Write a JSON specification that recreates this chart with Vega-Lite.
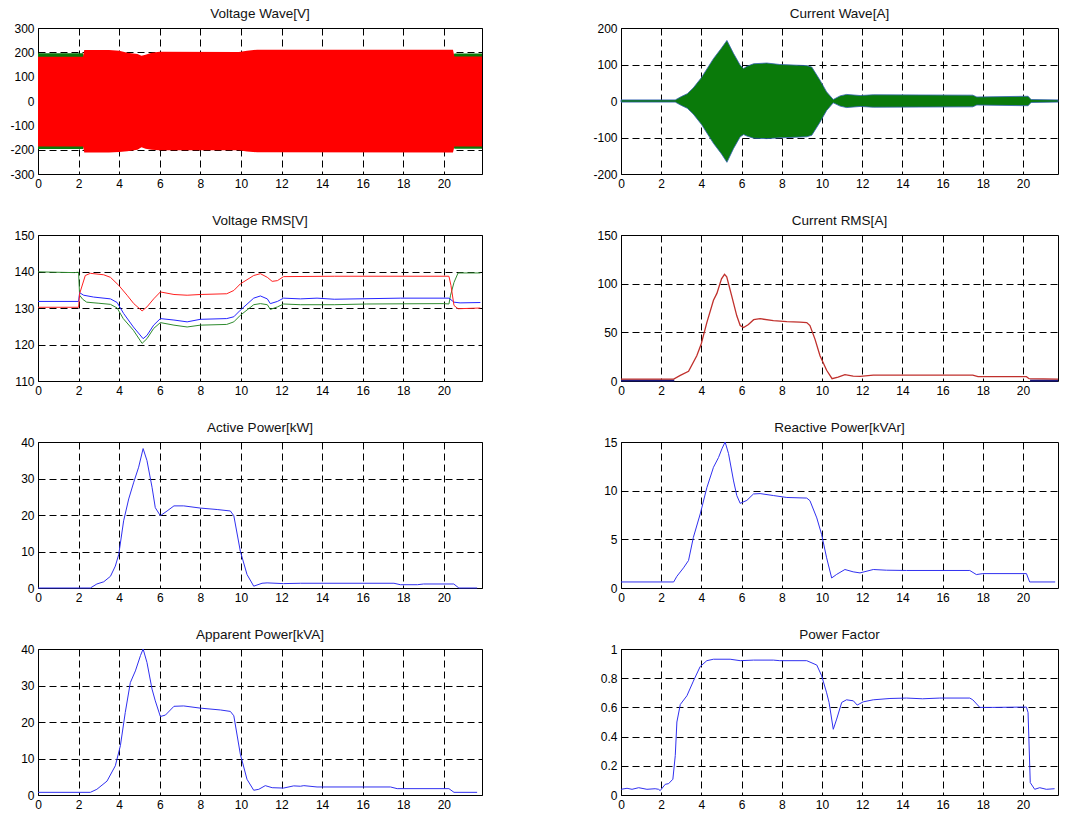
{
  "$schema": "https://vega.github.io/schema/vega-lite/v6.json",
  "background": "white",
  "padding": {"left": 9, "top": 6, "right": 5, "bottom": 5},
  "columns": 2,
  "spacing": {"row": 61, "column": 139},
  "bounds": "flush",
  "config": {
    "font": "Liberation Sans",
    "view": {"stroke": "#000", "strokeWidth": 1},
    "axis": {"grid": true, "gridColor": "#000", "gridDash": [7, 4], "gridWidth": 1, "gridOpacity": 1, "domain": false, "ticks": false, "labelFont": "Liberation Sans", "labelFontSize": 12, "labelColor": "#000", "labelPadding": 4, "title": null, "labelFlush": false, "labelOverlap": false},
    "title": {"font": "Liberation Sans", "fontSize": 13.5, "fontWeight": "normal", "color": "#111", "frame": "group", "anchor": "middle", "offset": 2}
  },
  "datasets": {
    "vw": [
      {"s": "g", "t": 0, "hi": 196, "lo": -197}, {"s": "g", "t": 2.22, "hi": 196, "lo": -197}, {"s": "g", "t": 2.28, "hi": 180, "lo": -180}, {"s": "g", "t": 20.45, "hi": 180, "lo": -180}, {"s": "g", "t": 20.52, "hi": 195, "lo": -196}, {"s": "g", "t": 21.88, "hi": 195, "lo": -196},
      {"s": "r", "t": 0, "hi": 182, "lo": -187}, {"s": "r", "t": 2.22, "hi": 182, "lo": -187}, {"s": "r", "t": 2.28, "hi": 210, "lo": -212}, {"s": "r", "t": 3.5, "hi": 210, "lo": -212}, {"s": "r", "t": 4.0, "hi": 206, "lo": -210}, {"s": "r", "t": 4.4, "hi": 198, "lo": -206}, {"s": "r", "t": 4.9, "hi": 193, "lo": -200}, {"s": "r", "t": 5.1, "hi": 186, "lo": -190}, {"s": "r", "t": 5.3, "hi": 190, "lo": -196}, {"s": "r", "t": 5.6, "hi": 198, "lo": -200}, {"s": "r", "t": 6.0, "hi": 202, "lo": -202}, {"s": "r", "t": 9.9, "hi": 201, "lo": -202}, {"s": "r", "t": 10.3, "hi": 206, "lo": -208}, {"s": "r", "t": 10.8, "hi": 211, "lo": -211}, {"s": "r", "t": 20.45, "hi": 211, "lo": -212}, {"s": "r", "t": 20.52, "hi": 183, "lo": -187}, {"s": "r", "t": 21.88, "hi": 183, "lo": -187}
    ],
    "iw": [
      {"t": 0, "hi": 3, "lo": -3}, {"t": 2.7, "hi": 3, "lo": -3}, {"t": 2.8, "hi": 6, "lo": -6}, {"t": 3.0, "hi": 12, "lo": -12}, {"t": 3.3, "hi": 20, "lo": -20}, {"t": 3.6, "hi": 36, "lo": -36}, {"t": 4.0, "hi": 64, "lo": -64}, {"t": 4.6, "hi": 116, "lo": -116}, {"t": 5.0, "hi": 145, "lo": -145}, {"t": 5.27, "hi": 166, "lo": -168}, {"t": 5.6, "hi": 130, "lo": -130}, {"t": 5.93, "hi": 98, "lo": -98}, {"t": 6.1, "hi": 89, "lo": -92}, {"t": 6.26, "hi": 95, "lo": -96}, {"t": 6.6, "hi": 102, "lo": -102}, {"t": 7.25, "hi": 104, "lo": -103}, {"t": 7.9, "hi": 100, "lo": -101}, {"t": 9.24, "hi": 97, "lo": -98}, {"t": 9.49, "hi": 93, "lo": -94}, {"t": 9.9, "hi": 57, "lo": -58}, {"t": 10.23, "hi": 25, "lo": -26}, {"t": 10.56, "hi": 4, "lo": -5}, {"t": 10.9, "hi": 14, "lo": -14}, {"t": 11.22, "hi": 18, "lo": -18}, {"t": 11.9, "hi": 15, "lo": -15}, {"t": 12.55, "hi": 17, "lo": -17}, {"t": 17.5, "hi": 16, "lo": -16}, {"t": 17.7, "hi": 11, "lo": -11}, {"t": 20.25, "hi": 13, "lo": -13}, {"t": 20.4, "hi": 4, "lo": -4}, {"t": 21.74, "hi": 3, "lo": -3}
    ],
    "vrms": [
      {"s": "g", "t": 0, "v": 139.9}, {"s": "g", "t": 1.8, "v": 139.7}, {"s": "g", "t": 2.0, "v": 139.8}, {"s": "g", "t": 2.05, "v": 133.5}, {"s": "g", "t": 2.2, "v": 132.4}, {"s": "g", "t": 2.4, "v": 131.6}, {"s": "g", "t": 3.0, "v": 131.3}, {"s": "g", "t": 3.57, "v": 131.0}, {"s": "g", "t": 3.9, "v": 130.0}, {"s": "g", "t": 4.2, "v": 127.1}, {"s": "g", "t": 4.7, "v": 123.9}, {"s": "g", "t": 5.13, "v": 120.3}, {"s": "g", "t": 5.37, "v": 121.6}, {"s": "g", "t": 5.7, "v": 124.4}, {"s": "g", "t": 6.03, "v": 126.0}, {"s": "g", "t": 6.7, "v": 125.3}, {"s": "g", "t": 7.35, "v": 124.8}, {"s": "g", "t": 8.0, "v": 125.3}, {"s": "g", "t": 9.3, "v": 125.5}, {"s": "g", "t": 9.65, "v": 126.2}, {"s": "g", "t": 9.97, "v": 128.0}, {"s": "g", "t": 10.63, "v": 130.9}, {"s": "g", "t": 10.96, "v": 131.2}, {"s": "g", "t": 11.3, "v": 130.9}, {"s": "g", "t": 11.45, "v": 129.6}, {"s": "g", "t": 11.8, "v": 130.3}, {"s": "g", "t": 12.1, "v": 131.1}, {"s": "g", "t": 12.93, "v": 130.9}, {"s": "g", "t": 14.6, "v": 130.9}, {"s": "g", "t": 16.2, "v": 131.1}, {"s": "g", "t": 20.0, "v": 131.2}, {"s": "g", "t": 20.25, "v": 131.1}, {"s": "g", "t": 20.33, "v": 133.5}, {"s": "g", "t": 20.5, "v": 137.0}, {"s": "g", "t": 20.7, "v": 139.6}, {"s": "g", "t": 21.8, "v": 139.6},
      {"s": "b", "t": 0, "v": 131.8}, {"s": "b", "t": 2.0, "v": 131.8}, {"s": "b", "t": 2.05, "v": 134.2}, {"s": "b", "t": 2.25, "v": 133.5}, {"s": "b", "t": 2.74, "v": 133.0}, {"s": "b", "t": 3.57, "v": 132.5}, {"s": "b", "t": 3.9, "v": 131.5}, {"s": "b", "t": 4.22, "v": 128.5}, {"s": "b", "t": 4.7, "v": 124.8}, {"s": "b", "t": 5.18, "v": 121.6}, {"s": "b", "t": 5.37, "v": 122.5}, {"s": "b", "t": 5.7, "v": 125.3}, {"s": "b", "t": 6.03, "v": 127.1}, {"s": "b", "t": 6.7, "v": 126.7}, {"s": "b", "t": 7.35, "v": 126.2}, {"s": "b", "t": 8.0, "v": 126.9}, {"s": "b", "t": 9.3, "v": 127.1}, {"s": "b", "t": 9.65, "v": 127.6}, {"s": "b", "t": 9.97, "v": 129.4}, {"s": "b", "t": 10.63, "v": 132.7}, {"s": "b", "t": 10.96, "v": 133.3}, {"s": "b", "t": 11.3, "v": 132.5}, {"s": "b", "t": 11.45, "v": 131.2}, {"s": "b", "t": 11.8, "v": 131.8}, {"s": "b", "t": 12.1, "v": 132.7}, {"s": "b", "t": 12.93, "v": 132.5}, {"s": "b", "t": 13.75, "v": 132.7}, {"s": "b", "t": 14.6, "v": 132.4}, {"s": "b", "t": 17.86, "v": 132.7}, {"s": "b", "t": 20.25, "v": 132.7}, {"s": "b", "t": 20.5, "v": 131.6}, {"s": "b", "t": 20.8, "v": 131.4}, {"s": "b", "t": 21.8, "v": 131.5},
      {"s": "r", "t": 0, "v": 130.2}, {"s": "r", "t": 2.0, "v": 130.2}, {"s": "r", "t": 2.05, "v": 133.9}, {"s": "r", "t": 2.33, "v": 138.9}, {"s": "r", "t": 2.58, "v": 139.5}, {"s": "r", "t": 3.24, "v": 139.1}, {"s": "r", "t": 3.57, "v": 138.4}, {"s": "r", "t": 3.98, "v": 136.2}, {"s": "r", "t": 4.39, "v": 133.5}, {"s": "r", "t": 4.72, "v": 131.2}, {"s": "r", "t": 5.13, "v": 129.2}, {"s": "r", "t": 5.37, "v": 130.3}, {"s": "r", "t": 5.7, "v": 132.5}, {"s": "r", "t": 6.03, "v": 134.4}, {"s": "r", "t": 6.7, "v": 133.7}, {"s": "r", "t": 7.35, "v": 133.5}, {"s": "r", "t": 8.0, "v": 133.7}, {"s": "r", "t": 9.3, "v": 133.9}, {"s": "r", "t": 9.65, "v": 134.8}, {"s": "r", "t": 9.97, "v": 136.6}, {"s": "r", "t": 10.63, "v": 138.9}, {"s": "r", "t": 10.96, "v": 139.4}, {"s": "r", "t": 11.3, "v": 138.4}, {"s": "r", "t": 11.54, "v": 137.3}, {"s": "r", "t": 11.8, "v": 137.5}, {"s": "r", "t": 12.1, "v": 138.6}, {"s": "r", "t": 14.6, "v": 138.7}, {"s": "r", "t": 20.25, "v": 138.7}, {"s": "r", "t": 20.35, "v": 136.2}, {"s": "r", "t": 20.5, "v": 130.7}, {"s": "r", "t": 20.7, "v": 129.8}, {"s": "r", "t": 21.8, "v": 130.0}
    ],
    "irms": [
      {"s": "n", "seg": "a", "t": 0, "v": 0.4}, {"s": "n", "seg": "a", "t": 2.65, "v": 0.4}, {"s": "n", "seg": "b", "t": 20.35, "v": 0.4}, {"s": "n", "seg": "b", "t": 21.74, "v": 0.4},
      {"s": "r", "seg": "r", "t": 0, "v": 2}, {"s": "r", "seg": "r", "t": 2.62, "v": 2}, {"s": "r", "seg": "r", "t": 2.95, "v": 5.8}, {"s": "r", "seg": "r", "t": 3.36, "v": 10}, {"s": "r", "seg": "r", "t": 3.77, "v": 26}, {"s": "r", "seg": "r", "t": 3.99, "v": 38}, {"s": "r", "seg": "r", "t": 4.27, "v": 60}, {"s": "r", "seg": "r", "t": 4.6, "v": 83}, {"s": "r", "seg": "r", "t": 4.77, "v": 90}, {"s": "r", "seg": "r", "t": 5.0, "v": 105}, {"s": "r", "seg": "r", "t": 5.15, "v": 109.6}, {"s": "r", "seg": "r", "t": 5.26, "v": 107}, {"s": "r", "seg": "r", "t": 5.5, "v": 88}, {"s": "r", "seg": "r", "t": 5.76, "v": 67}, {"s": "r", "seg": "r", "t": 5.93, "v": 57}, {"s": "r", "seg": "r", "t": 6.1, "v": 55}, {"s": "r", "seg": "r", "t": 6.34, "v": 58}, {"s": "r", "seg": "r", "t": 6.6, "v": 63}, {"s": "r", "seg": "r", "t": 6.92, "v": 64}, {"s": "r", "seg": "r", "t": 7.58, "v": 62}, {"s": "r", "seg": "r", "t": 8.25, "v": 61}, {"s": "r", "seg": "r", "t": 8.9, "v": 60.5}, {"s": "r", "seg": "r", "t": 9.24, "v": 60}, {"s": "r", "seg": "r", "t": 9.4, "v": 57}, {"s": "r", "seg": "r", "t": 9.65, "v": 43}, {"s": "r", "seg": "r", "t": 9.9, "v": 26}, {"s": "r", "seg": "r", "t": 10.23, "v": 11}, {"s": "r", "seg": "r", "t": 10.5, "v": 2.4}, {"s": "r", "seg": "r", "t": 10.8, "v": 4}, {"s": "r", "seg": "r", "t": 11.14, "v": 6.5}, {"s": "r", "seg": "r", "t": 11.55, "v": 5}, {"s": "r", "seg": "r", "t": 11.9, "v": 4.8}, {"s": "r", "seg": "r", "t": 12.55, "v": 6.1}, {"s": "r", "seg": "r", "t": 17.5, "v": 6.1}, {"s": "r", "seg": "r", "t": 17.76, "v": 4.4}, {"s": "r", "seg": "r", "t": 20.17, "v": 4.4}, {"s": "r", "seg": "r", "t": 20.3, "v": 2.4}, {"s": "r", "seg": "r", "t": 21.74, "v": 2}
    ],
    "p": [
      {"t": 0, "v": 0}, {"t": 2.58, "v": 0}, {"t": 2.9, "v": 1.1}, {"t": 3.24, "v": 1.7}, {"t": 3.57, "v": 3.2}, {"t": 3.81, "v": 6}, {"t": 3.98, "v": 9.2}, {"t": 4.22, "v": 18.4}, {"t": 4.47, "v": 24.4}, {"t": 4.72, "v": 29}, {"t": 4.96, "v": 33.1}, {"t": 5.18, "v": 38.2}, {"t": 5.37, "v": 34.9}, {"t": 5.62, "v": 27.6}, {"t": 5.78, "v": 22}, {"t": 6.03, "v": 19.8}, {"t": 6.36, "v": 21.1}, {"t": 6.7, "v": 22.5}, {"t": 7.18, "v": 22.5}, {"t": 8.0, "v": 21.9}, {"t": 8.83, "v": 21.5}, {"t": 9.48, "v": 21.1}, {"t": 9.65, "v": 19.8}, {"t": 9.97, "v": 10.1}, {"t": 10.3, "v": 3.7}, {"t": 10.63, "v": 0.5}, {"t": 11.04, "v": 1.3}, {"t": 11.29, "v": 1.4}, {"t": 12.1, "v": 1.2}, {"t": 12.93, "v": 1.3}, {"t": 17.54, "v": 1.3}, {"t": 17.86, "v": 0.9}, {"t": 18.7, "v": 0.9}, {"t": 19.0, "v": 1.1}, {"t": 20.49, "v": 1.1}, {"t": 20.74, "v": 0}, {"t": 21.64, "v": 0}
    ],
    "q": [
      {"t": 0, "v": 0.62}, {"t": 2.62, "v": 0.62}, {"t": 2.78, "v": 1.2}, {"t": 3.11, "v": 2.07}, {"t": 3.36, "v": 2.83}, {"t": 3.6, "v": 5.2}, {"t": 3.94, "v": 7.6}, {"t": 4.27, "v": 10.3}, {"t": 4.6, "v": 12.4}, {"t": 4.85, "v": 13.4}, {"t": 5.02, "v": 14.3}, {"t": 5.18, "v": 15}, {"t": 5.35, "v": 13.8}, {"t": 5.6, "v": 11}, {"t": 5.76, "v": 9.5}, {"t": 5.93, "v": 8.7}, {"t": 6.26, "v": 9.0}, {"t": 6.59, "v": 9.66}, {"t": 6.92, "v": 9.7}, {"t": 7.58, "v": 9.5}, {"t": 8.25, "v": 9.3}, {"t": 9.24, "v": 9.24}, {"t": 9.4, "v": 8.97}, {"t": 9.74, "v": 7.2}, {"t": 9.98, "v": 5.5}, {"t": 10.23, "v": 3.1}, {"t": 10.48, "v": 1.03}, {"t": 10.73, "v": 1.4}, {"t": 11.14, "v": 1.9}, {"t": 11.55, "v": 1.66}, {"t": 11.89, "v": 1.55}, {"t": 12.55, "v": 1.9}, {"t": 13.2, "v": 1.83}, {"t": 14.2, "v": 1.8}, {"t": 17.35, "v": 1.8}, {"t": 17.68, "v": 1.38}, {"t": 18.0, "v": 1.48}, {"t": 20.17, "v": 1.48}, {"t": 20.33, "v": 0.62}, {"t": 21.6, "v": 0.62}
    ],
    "s": [
      {"t": 0, "v": 0.73}, {"t": 2.58, "v": 0.73}, {"t": 2.9, "v": 1.56}, {"t": 3.4, "v": 3.8}, {"t": 3.81, "v": 8}, {"t": 4.06, "v": 13.5}, {"t": 4.3, "v": 22.6}, {"t": 4.55, "v": 30.8}, {"t": 4.8, "v": 34}, {"t": 5.05, "v": 38.2}, {"t": 5.18, "v": 40}, {"t": 5.37, "v": 36.3}, {"t": 5.62, "v": 29}, {"t": 5.78, "v": 25.8}, {"t": 6.03, "v": 21.5}, {"t": 6.28, "v": 21.9}, {"t": 6.7, "v": 24.3}, {"t": 7.18, "v": 24.4}, {"t": 8.0, "v": 23.8}, {"t": 8.99, "v": 23.3}, {"t": 9.48, "v": 22.9}, {"t": 9.65, "v": 21.7}, {"t": 9.97, "v": 11.2}, {"t": 10.3, "v": 4.3}, {"t": 10.63, "v": 1.3}, {"t": 10.88, "v": 1.56}, {"t": 11.2, "v": 2.56}, {"t": 11.54, "v": 2}, {"t": 12.1, "v": 1.9}, {"t": 12.6, "v": 2.5}, {"t": 12.93, "v": 2.4}, {"t": 13.1, "v": 2.56}, {"t": 13.75, "v": 2.2}, {"t": 17.37, "v": 2.2}, {"t": 17.7, "v": 1.74}, {"t": 20.25, "v": 1.74}, {"t": 20.5, "v": 0.73}, {"t": 21.64, "v": 0.73}
    ],
    "pf": [
      {"t": 0, "v": 0.039}, {"t": 0.3, "v": 0.046}, {"t": 0.55, "v": 0.039}, {"t": 0.88, "v": 0.05}, {"t": 1.29, "v": 0.039}, {"t": 1.7, "v": 0.043}, {"t": 1.87, "v": 0.039}, {"t": 1.95, "v": 0.03}, {"t": 2.2, "v": 0.073}, {"t": 2.37, "v": 0.078}, {"t": 2.58, "v": 0.108}, {"t": 2.7, "v": 0.27}, {"t": 2.78, "v": 0.5}, {"t": 2.95, "v": 0.62}, {"t": 3.28, "v": 0.68}, {"t": 3.6, "v": 0.78}, {"t": 3.94, "v": 0.88}, {"t": 4.27, "v": 0.92}, {"t": 4.6, "v": 0.93}, {"t": 5.43, "v": 0.93}, {"t": 5.93, "v": 0.92}, {"t": 6.59, "v": 0.924}, {"t": 7.58, "v": 0.924}, {"t": 7.9, "v": 0.92}, {"t": 9.24, "v": 0.92}, {"t": 9.74, "v": 0.89}, {"t": 9.98, "v": 0.817}, {"t": 10.23, "v": 0.7}, {"t": 10.35, "v": 0.634}, {"t": 10.56, "v": 0.45}, {"t": 10.73, "v": 0.52}, {"t": 10.98, "v": 0.634}, {"t": 11.22, "v": 0.652}, {"t": 11.56, "v": 0.645}, {"t": 11.75, "v": 0.616}, {"t": 12.05, "v": 0.638}, {"t": 12.55, "v": 0.652}, {"t": 13.38, "v": 0.661}, {"t": 14.2, "v": 0.664}, {"t": 15.0, "v": 0.659}, {"t": 15.86, "v": 0.664}, {"t": 17.35, "v": 0.664}, {"t": 17.5, "v": 0.652}, {"t": 17.85, "v": 0.6}, {"t": 18.5, "v": 0.6}, {"t": 19.83, "v": 0.602}, {"t": 20.17, "v": 0.602}, {"t": 20.25, "v": 0.565}, {"t": 20.36, "v": 0.085}, {"t": 20.58, "v": 0.039}, {"t": 20.83, "v": 0.05}, {"t": 21.16, "v": 0.039}, {"t": 21.57, "v": 0.043}
    ]
  },
  "concat": [
    {
      "title": "Voltage Wave[V]", "width": 444, "height": 146,
      "data": {"name": "vw"},
      "encoding": {
        "x": {"field": "t", "type": "quantitative", "scale": {"domain": [0, 21.88], "nice": false, "zero": false}, "axis": {"values": [0, 2, 4, 6, 8, 10, 12, 14, 16, 18, 20]}},
        "y": {"field": "hi", "type": "quantitative", "scale": {"domain": [-300, 300], "nice": false}, "axis": {"values": [-300, -200, -100, 0, 100, 200, 300], "labelExpr": "'' + datum.value"}},
        "y2": {"field": "lo"}
      },
      "layer": [
        {"transform": [{"filter": "datum.s == 'g'"}], "mark": {"type": "area", "color": "#0a7a0a", "opacity": 1}},
        {"transform": [{"filter": "datum.s == 'r'"}], "mark": {"type": "area", "color": "#ff0000", "opacity": 1}}
      ]
    },
    {
      "title": "Current Wave[A]", "width": 437, "height": 146,
      "data": {"name": "iw"},
      "mark": {"type": "area", "color": "#0a7a0a", "opacity": 1, "stroke": "#3060b0", "strokeWidth": 0.8},
      "encoding": {
        "x": {"field": "t", "type": "quantitative", "scale": {"domain": [0, 21.74], "nice": false, "zero": false}, "axis": {"values": [0, 2, 4, 6, 8, 10, 12, 14, 16, 18, 20]}},
        "y": {"field": "hi", "type": "quantitative", "scale": {"domain": [-200, 200], "nice": false}, "axis": {"values": [-200, -100, 0, 100, 200], "labelExpr": "'' + datum.value"}},
        "y2": {"field": "lo"}
      }
    },
    {
      "title": "Voltage RMS[V]", "width": 444, "height": 146,
      "data": {"name": "vrms"},
      "encoding": {
        "x": {"field": "t", "type": "quantitative", "scale": {"domain": [0, 21.88], "nice": false, "zero": false}, "axis": {"values": [0, 2, 4, 6, 8, 10, 12, 14, 16, 18, 20]}},
        "y": {"field": "v", "type": "quantitative", "scale": {"domain": [110, 150], "nice": false, "zero": false}, "axis": {"values": [110, 120, 130, 140, 150], "labelExpr": "'' + datum.value"}}
      },
      "layer": [
        {"transform": [{"filter": "datum.s == 'g'"}], "mark": {"type": "line", "color": "#2e8b2e", "strokeWidth": 1}},
        {"transform": [{"filter": "datum.s == 'b'"}], "mark": {"type": "line", "color": "#2525ff", "strokeWidth": 1}},
        {"transform": [{"filter": "datum.s == 'r'"}], "mark": {"type": "line", "color": "#ff2020", "strokeWidth": 1}}
      ]
    },
    {
      "title": "Current RMS[A]", "width": 437, "height": 146,
      "data": {"name": "irms"},
      "encoding": {
        "x": {"field": "t", "type": "quantitative", "scale": {"domain": [0, 21.74], "nice": false, "zero": false}, "axis": {"values": [0, 2, 4, 6, 8, 10, 12, 14, 16, 18, 20]}},
        "y": {"field": "v", "type": "quantitative", "scale": {"domain": [0, 150], "nice": false}, "axis": {"values": [0, 50, 100, 150], "labelExpr": "'' + datum.value"}},
        "detail": {"field": "seg"}
      },
      "layer": [
        {"transform": [{"filter": "datum.s == 'n'"}], "mark": {"type": "line", "color": "#1a1a80", "strokeWidth": 2}},
        {"transform": [{"filter": "datum.s == 'r'"}], "mark": {"type": "line", "color": "#c0302c", "strokeWidth": 1.3}}
      ]
    },
    {
      "title": "Active Power[kW]", "width": 444, "height": 146,
      "data": {"name": "p"},
      "mark": {"type": "line", "color": "#3030f0", "strokeWidth": 1},
      "encoding": {
        "x": {"field": "t", "type": "quantitative", "scale": {"domain": [0, 21.88], "nice": false, "zero": false}, "axis": {"values": [0, 2, 4, 6, 8, 10, 12, 14, 16, 18, 20]}},
        "y": {"field": "v", "type": "quantitative", "scale": {"domain": [0, 40], "nice": false}, "axis": {"values": [0, 10, 20, 30, 40], "labelExpr": "'' + datum.value"}}
      }
    },
    {
      "title": "Reactive Power[kVAr]", "width": 437, "height": 146,
      "data": {"name": "q"},
      "mark": {"type": "line", "color": "#3030f0", "strokeWidth": 1},
      "encoding": {
        "x": {"field": "t", "type": "quantitative", "scale": {"domain": [0, 21.74], "nice": false, "zero": false}, "axis": {"values": [0, 2, 4, 6, 8, 10, 12, 14, 16, 18, 20]}},
        "y": {"field": "v", "type": "quantitative", "scale": {"domain": [0, 15], "nice": false}, "axis": {"values": [0, 5, 10, 15], "labelExpr": "'' + datum.value"}}
      }
    },
    {
      "title": "Apparent Power[kVA]", "width": 444, "height": 146,
      "data": {"name": "s"},
      "mark": {"type": "line", "color": "#3030f0", "strokeWidth": 1},
      "encoding": {
        "x": {"field": "t", "type": "quantitative", "scale": {"domain": [0, 21.88], "nice": false, "zero": false}, "axis": {"values": [0, 2, 4, 6, 8, 10, 12, 14, 16, 18, 20]}},
        "y": {"field": "v", "type": "quantitative", "scale": {"domain": [0, 40], "nice": false}, "axis": {"values": [0, 10, 20, 30, 40], "labelExpr": "'' + datum.value"}}
      }
    },
    {
      "title": "Power Factor", "width": 437, "height": 146,
      "data": {"name": "pf"},
      "mark": {"type": "line", "color": "#3030f0", "strokeWidth": 1},
      "encoding": {
        "x": {"field": "t", "type": "quantitative", "scale": {"domain": [0, 21.74], "nice": false, "zero": false}, "axis": {"values": [0, 2, 4, 6, 8, 10, 12, 14, 16, 18, 20]}},
        "y": {"field": "v", "type": "quantitative", "scale": {"domain": [0, 1], "nice": false}, "axis": {"values": [0, 0.2, 0.4, 0.6, 0.8, 1], "labelExpr": "'' + datum.value"}}
      }
    }
  ]
}
